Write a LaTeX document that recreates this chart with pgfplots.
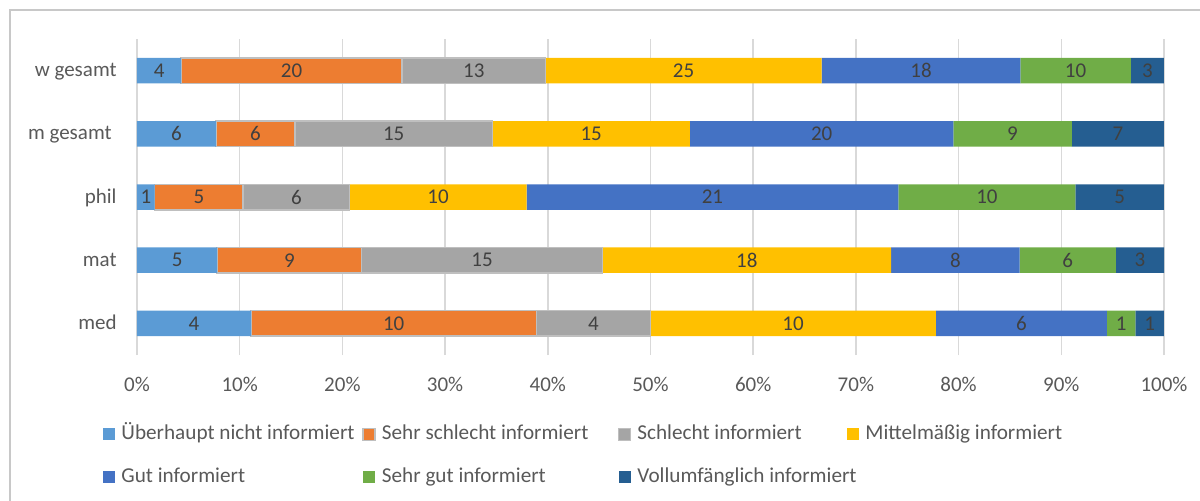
\documentclass[border=0pt]{standalone}
\usepackage{pgfplots}
\pgfplotsset{compat=1.18}
\usepackage{pgfplotstable}
\usepackage{fontspec}
\setmainfont{Carlito}
\definecolor{c1}{HTML}{5B9BD5}
\definecolor{c2}{HTML}{ED7D31}
\definecolor{c3}{HTML}{A5A5A5}
\definecolor{c4}{HTML}{FFC000}
\definecolor{c5}{HTML}{4472C4}
\definecolor{c6}{HTML}{70AD47}
\definecolor{c7}{HTML}{255E91}
\definecolor{bordcol}{HTML}{BFBFBF}
\definecolor{gridcol}{HTML}{D9D9D9}
\definecolor{labcol}{HTML}{404040}
\definecolor{tickcol}{HTML}{595959}
\definecolor{framecol}{HTML}{C8C8C8}
\pgfplotstableread{
y a b c d e f g
0 4 10 4 10 6 1 1
1 5 9 15 18 8 6 3
2 1 5 6 10 21 10 5
3 6 6 15 15 20 9 7
4 4 20 13 25 18 10 3
}\data
\pgfplotstablecreatecol[create col/expr={\thisrow{a}+\thisrow{b}+\thisrow{c}+\thisrow{d}+\thisrow{e}+\thisrow{f}+\thisrow{g}}]{tot}\data
\pgfplotstablecreatecol[create col/expr={100*\thisrow{a}/\thisrow{tot}}]{pa}\data
\pgfplotstablecreatecol[create col/expr={100*\thisrow{b}/\thisrow{tot}}]{pb}\data
\pgfplotstablecreatecol[create col/expr={100*\thisrow{c}/\thisrow{tot}}]{pc}\data
\pgfplotstablecreatecol[create col/expr={100*\thisrow{d}/\thisrow{tot}}]{pd}\data
\pgfplotstablecreatecol[create col/expr={100*\thisrow{e}/\thisrow{tot}}]{pe}\data
\pgfplotstablecreatecol[create col/expr={100*\thisrow{f}/\thisrow{tot}}]{pf}\data
\pgfplotstablecreatecol[create col/expr={100*\thisrow{g}/\thisrow{tot}}]{pg}\data
\pgfplotsset{
  seg/.style 2 args={fill=#1, draw=#2, line width=0.75pt,
    legend image code/.code={\draw[fill=#1,draw=#2,line width=0.75pt] (0pt,-3pt) rectangle (6pt,3pt);}},
}
\begin{document}
\fontsize{10.5}{12.6}\selectfont
\begin{tikzpicture}
\begin{axis}[
  at={(0pt,0pt)}, anchor=south west,
  scale only axis, width=513.6pt, height=158pt,
  xmin=0, xmax=100.02, ymin=-0.5, ymax=4.5,
  xbar stacked, bar width=12.75pt,
  /pgf/number format/assume math mode=true,
  axis line style={draw=none}, tick style={draw=none},
  xmajorgrids, major grid style={draw=gridcol, line width=0.75pt},
  xtick={0,10,...,100},
  xticklabel={\pgfmathprintnumber{\tick}\%},
  xticklabel style={anchor=base, inner sep=0pt, yshift=-18pt, text=tickcol, font=\fontsize{10.5}{12.6}\selectfont},
  ytick={0,1,2,3,4},
  yticklabels={med,mat,phil,{m gesamt\kern2.5pt},w gesamt},
  yticklabel style={anchor=base east, inner sep=0pt, xshift=-10pt, yshift=-3pt, text=tickcol, font=\fontsize{10.5}{12.6}\selectfont},
  point meta=explicit,
  nodes near coords,
  every node near coord/.append style={anchor=center, text=labcol, font=\fontsize{10.5}{12.6}\selectfont},
  legend columns=4,
  legend style={draw=none, fill=none, at={(axis description cs:-0.0331,-0.2215)}, anchor=north west,
    inner sep=0pt, column sep=0pt, row sep=12.5pt,
    nodes={inner sep=0pt, text height=7pt, text depth=2pt, text=tickcol, font=\fontsize{10.6}{12.6}\selectfont},
    /tikz/every odd column/.style={column sep=3pt}},
  legend cell align=left,
]
\addplot[seg={c1}{none}] table[y=y, x=pa, meta=a] \data;
\addlegendentry{\makebox[120.5pt][l]{Überhaupt nicht informiert}}
\addplot[seg={c2}{bordcol}] table[y=y, x=pb, meta=b] \data;
\addlegendentry{\makebox[118pt][l]{Sehr schlecht informiert}}
\addplot[seg={c3}{bordcol}] table[y=y, x=pc, meta=c] \data;
\addlegendentry{\makebox[105pt][l]{Schlecht informiert}}
\addplot[seg={c4}{none}] table[y=y, x=pd, meta=d] \data;
\addlegendentry{Mittelmäßig informiert}
\addplot[seg={c5}{none}] table[y=y, x=pe, meta=e] \data;
\addlegendentry{\makebox[120.5pt][l]{Gut informiert}}
\addplot[seg={c6}{none}] table[y=y, x=pf, meta=f] \data;
\addlegendentry{\makebox[118pt][l]{Sehr gut informiert}}
\addplot[seg={c7}{none}] table[y=y, x=pg, meta=g] \data;
\addlegendentry{\makebox[105pt][l]{Vollumfänglich informiert}}
\end{axis}
\draw[framecol, line width=0.8pt] (539pt,-80pt) -- (-63.5pt,-80pt) -- (-63.5pt,172.5pt) -- (539pt,172.5pt);
\pgfresetboundingbox
\path[use as bounding box] (-68.5pt,-72.5pt) rectangle (531.5pt,177.5pt);
\end{tikzpicture}
\end{document}
